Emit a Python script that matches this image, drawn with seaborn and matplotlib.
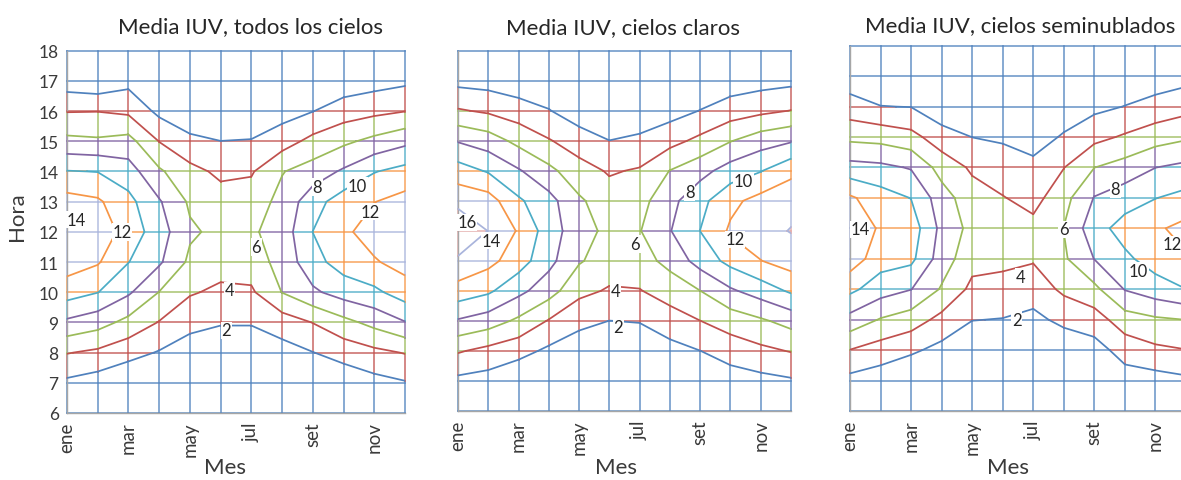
import numpy as np
import matplotlib
matplotlib.use("Agg")
import matplotlib.pyplot as plt
from matplotlib.collections import LineCollection
import seaborn as sns

# ---------------- data (IUV value per month, hours 6..18) ----------------
meses = ["ene", "feb", "mar", "abr", "may", "jun", "jul", "ago", "set", "oct", "nov", "dic"]
etiquetas_x = ["ene", "", "mar", "", "may", "", "jul", "", "set", "", "nov", ""]
horas = [6, 7, 8, 9, 10, 11, 12, 13, 14, 15, 16, 17, 18]
niveles = [2, 4, 6, 8, 10, 12, 14, 16]

titulos = ["Media IUV, todos los cielos", "Media IUV, cielos claros",
           "Media IUV, cielos seminublados"]

iuv_todos = [
    [0.3, 1.6, 4.1, 7.6, 10.9, 13.0, 13.9, 12.8, 10.1, 6.5, 3.9, 0.9, 0.0],    # ene
    [0.1, 1.05, 3.6, 6.8, 10.05, 12.2, 13.2, 12.3, 9.95, 6.3, 3.95, 0.5, 0.0], # feb
    [0.0, 0.3, 2.7, 5.4, 8.3, 10.05, 11.2, 10.6, 8.9, 6.7, 3.6, 1.4, 0.1],     # mar
    [0.0, 0.3, 1.85, 3.9, 5.95, 8.3, 8.9, 8.2, 6.3, 3.95, 1.5, 0.3, 0.0],      # abr
    [0.0, 0.2, 1.0, 2.6, 4.2, 5.6, 6.3, 5.7, 4.6, 2.5, 0.5, 0.05, 0.0],        # may
    [0.0, 0.1, 0.7, 2.15, 3.6, 4.8, 5.5, 4.8, 3.6, 2.02, 0.3, 0.0, 0.0],       # jun
    [0.0, 0.1, 0.7, 2.15, 3.7, 5.0, 5.7, 4.95, 3.8, 2.1, 0.7, 0.0, 0.0],       # jul
    [0.0, 0.2, 1.2, 3.0, 6.05, 6.7, 6.9, 6.6, 5.9, 3.1, 1.2, 0.2, 0.0],        # ago
    [0.0, 0.3, 1.95, 4.05, 7.65, 9.3, 10.02, 9.2, 6.9, 4.6, 1.95, 0.5, 0.0],   # set
    [0.0, 0.6, 2.8, 5.4, 8.85, 10.9, 11.6, 11.0, 8.3, 5.6, 3.0, 0.8, 0.1],     # oct
    [0.1, 1.35, 3.5, 6.6, 9.56, 11.8, 12.9, 11.95, 9.9, 6.55, 3.5, 1.2, 0.2],  # nov
    [0.3, 1.85, 4.1, 7.9, 11.0, 12.8, 13.4, 12.7, 10.7, 7.5, 3.95, 1.6, 0.3],  # dic
]

iuv_claros = [
    [0.1, 1.5, 4.2, 7.8, 11.2, 13.65, 15.8, 13.36, 10.9, 7.85, 4.2, 1.4, 0.1],  # ene
    [0.0, 1.2, 3.4, 7.0, 10.35, 12.6, 13.95, 12.9, 9.8, 7.0, 3.7, 1.2, 0.0],    # feb
    [0.0, 0.3, 2.7, 5.6, 8.55, 10.95, 11.8, 10.3, 8.2, 5.43, 2.97, 0.7, 0.0],   # mar
    [0.0, 0.3, 1.6, 3.85, 6.86, 8.6, 9.0, 8.7, 6.5, 4.15, 2.1, 0.5, 0.0],       # abr
    [0.0, 0.1, 0.73, 2.6, 4.5, 6.2, 6.8, 6.3, 4.8, 2.98, 0.9, 0.1, 0.0],        # may
    [0.0, 0.0, 0.5, 1.98, 3.8, 5.0, 5.5, 4.9, 3.8, 2.02, 0.5, 0.0, 0.0],        # jun
    [0.0, 0.05, 0.6, 2.1, 3.9, 5.2, 5.9, 5.3, 4.2, 2.4, 0.7, 0.0, 0.0],         # jul
    [0.0, 0.2, 1.3, 3.1, 4.87, 6.6, 7.9, 7.4, 6.05, 3.35, 1.2, 0.2, 0.0],       # ago
    [0.0, 0.3, 1.98, 3.98, 5.98, 8.8, 10.02, 9.4, 7.3, 4.5, 2.05, 0.5, 0.0],    # set
    [0.1, 1.0, 2.9, 4.9, 7.7, 10.6, 12.3, 11.5, 8.9, 5.9, 3.0, 0.9, 0.1],       # oct
    [0.2, 1.4, 3.55, 5.7, 8.9, 11.95, 13.3, 12.7, 9.9, 7.1, 3.55, 1.25, 0.2],   # nov
    [0.2, 1.75, 4.1, 6.7, 10.3, 12.9, 14.1, 13.3, 11.5, 7.8, 4.05, 1.5, 0.2],   # dic
]

iuv_seminublados = [
    [0.1, 1.4, 3.95, 7.3, 10.5, 13.1, 13.9, 12.3, 8.7, 5.5, 2.85, 0.8, 0.1],    # ene
    [0.0, 0.9, 3.1, 5.85, 8.9, 10.9, 11.65, 10.9, 8.45, 5.3, 2.05, 0.4, 0.0],   # feb
    [0.0, 0.1, 2.35, 5.0, 8.05, 10.5, 11.09, 9.95, 7.85, 4.65, 1.95, 0.2, 0.0], # mar
    [0.0, 0.1, 1.4, 3.4, 5.8, 7.0, 7.45, 6.9, 5.2, 2.9, 0.6, 0.0, 0.0],         # abr
    [0.0, 0.0, 0.6, 2.05, 3.5, 4.7, 5.38, 4.8, 3.7, 1.98, 0.3, 0.0, 0.0],       # may
    [0.0, 0.0, 0.5, 1.93, 3.3, 4.5, 5.0, 4.1, 2.9, 1.75, 0.3, 0.0, 0.0],        # jun
    [0.0, 0.0, 0.3, 1.5, 2.9, 4.2, 4.6, 3.3, 2.6, 1.0, 0.2, 0.0, 0.0],          # jul
    [0.0, 0.1, 0.6, 2.5, 4.4, 5.7, 6.05, 5.3, 3.95, 2.24, 0.7, 0.0, 0.0],       # ago
    [0.0, 0.3, 1.2, 3.05, 5.5, 8.05, 9.2, 8.1, 5.98, 3.43, 1.5, 0.3, 0.0],      # set
    [0.1, 1.1, 2.8, 5.1, 8.1, 9.6, 10.8, 9.1, 6.8, 4.25, 2.05, 0.6, 0.1],       # oct
    [0.2, 1.2, 3.6, 5.7, 9.1, 10.9, 11.7, 9.95, 7.98, 5.1, 2.7, 0.9, 0.2],      # nov
    [0.3, 1.6, 3.95, 6.02, 9.98, 11.8, 12.6, 10.6, 8.5, 5.7, 3.3, 1.3, 0.3],    # dic
]

# contour label text and where it sits (month index, hour)
etiquetas_todos = [("2", 5.18, 8.74), ("4", 5.28, 10.06), ("6", 6.16, 11.5),
                   ("8", 8.14, 13.49), ("10", 9.45, 13.53), ("12", 9.87, 12.67),
                   ("12", 1.79, 12.0), ("14", 0.3, 12.4)]
etiquetas_claros = [("2", 5.3, 8.81), ("4", 5.19, 10.0), ("6", 5.85, 11.56),
                    ("8", 7.66, 13.28), ("10", 9.43, 13.67), ("12", 9.15, 11.72),
                    ("14", 1.11, 11.67), ("16", 0.29, 12.28)]
etiquetas_semi = [("2", 5.46, 9.0), ("4", 5.57, 10.41), ("6", 7.0, 11.97),
                  ("8", 8.69, 13.29), ("10", 9.45, 10.6), ("12", 10.55, 11.48),
                  ("14", 0.33, 11.97)]

# ---------------- style ----------------
sns.set_theme(style="white")
plt.rcParams["font.family"] = ["Lato", "DejaVu Sans"]

colores_nivel = sns.color_palette(["#4F81BD", "#C0504D", "#9BBB59", "#8064A2",
                                   "#4BACC6", "#F79646", "#A9B4DC", "#E2A6A4"])
colores_banda = list(colores_nivel) + [sns.color_palette(["#C3D69B"])[0]]
TXT = "#262626"
GRIS = "#3A3A3A"

W, H = 1181, 481
fig = plt.figure(figsize=(W / 100, H / 100), dpi=100)
fig.patch.set_facecolor("white")


def tramos(pos, vals):
    """Split a grid line into pieces that stay inside one value band."""
    pts = [pos[0]]
    for k in range(len(pos) - 1):
        v0, v1 = vals[k], vals[k + 1]
        cr = []
        for L in niveles:
            if (v0 - L) * (v1 - L) < 0:
                cr.append(pos[k] + (L - v0) / (v1 - v0) * (pos[k + 1] - pos[k]))
        pts.extend(sorted(cr))
        pts.append(pos[k + 1])
    out = []
    for a, b in zip(pts[:-1], pts[1:]):
        if b - a <= 1e-9:
            continue
        v = np.interp(0.5 * (a + b), pos, vals)
        c = colores_banda[int(np.searchsorted(niveles, v, side="right"))]
        if out and out[-1][2] == c and abs(out[-1][1] - a) < 1e-9:
            out[-1] = (out[-1][0], b, c)
        else:
            out.append((a, b, c))
    return out


def panel(rect, datos, titulo, tx, etiquetas, ylabels):
    ax = fig.add_axes(rect)
    Z = np.array(datos)            # (12 months, 13 hours)
    xm = np.arange(len(meses))
    # coloured mesh lines
    segs, cols = [], []
    for j, h in enumerate(horas):
        for a, b, c in tramos(xm, Z[:, j]):
            segs.append([(a, h), (b, h)]); cols.append(c)
    for i in xm:
        for a, b, c in tramos(np.array(horas, float), Z[i, :]):
            segs.append([(i, a), (i, b)]); cols.append(c)
    lc = LineCollection(segs, colors=cols, linewidths=1.2, alpha=0.8,
                        capstyle="projecting", zorder=1, clip_on=False)
    ax.add_collection(lc)
    # contour lines
    ax.contour(xm, horas, Z.T, levels=niveles, colors=colores_nivel,
               linewidths=1.25, zorder=3)
    for t, m, h in etiquetas:
        ax.text(m, h, t, ha="center", va="center", fontsize=12, color=TXT,
                zorder=6, bbox=dict(facecolor="white", edgecolor="none", pad=0.5))
    ax.set_xlim(0, 11)
    ax.set_ylim(6, 18)
    ax.set_xticks(xm)
    ax.set_xticklabels(etiquetas_x, rotation=90)
    ax.set_yticks(horas)
    ax.set_yticklabels([str(h) for h in horas] if ylabels else [])
    ax.tick_params(axis="both", direction="inout", length=6, width=0.8,
                   color="#8C8C8C", labelcolor=GRIS, pad=3)
    ax.tick_params(axis="x", labelsize=13.5)
    ax.tick_params(axis="y", labelsize=12.5)
    for s in ("top", "right"):
        ax.spines[s].set_visible(False)
    for s in ("left", "bottom"):
        ax.spines[s].set_color("#A6A6A6")
        ax.spines[s].set_linewidth(1.0)
        ax.spines[s].set_zorder(2)
    ax.set_facecolor("white")
    fig.text(tx[0] / W, 1 - tx[1] / H, titulo, ha="center", va="center",
             fontsize=16, color=TXT)
    fig.text(tx[2] / W, 1 - 468 / H, "Mes", ha="center", va="center",
             fontsize=16, color=GRIS)
    return ax


def rect(l, r, t, b):
    return [l / W, 1 - b / H, (r - l) / W, (b - t) / H]


panel(rect(67, 405, 51.7, 414), iuv_todos, titulos[0], (250, 27, 225),
      etiquetas_todos, True)
panel(rect(458, 791, 51.7, 412), iuv_claros, titulos[1], (623, 28, 616),
      etiquetas_claros, False)
panel(rect(850, 1186, 46.7, 412), iuv_seminublados, titulos[2], (1020, 26, 1008),
      etiquetas_semi, False)

fig.text(17 / W, 1 - 217 / H, "Hora", rotation=90, ha="center", va="center",
         fontsize=16, color=GRIS)

fig.savefig("out.png", dpi=100, facecolor="white")
